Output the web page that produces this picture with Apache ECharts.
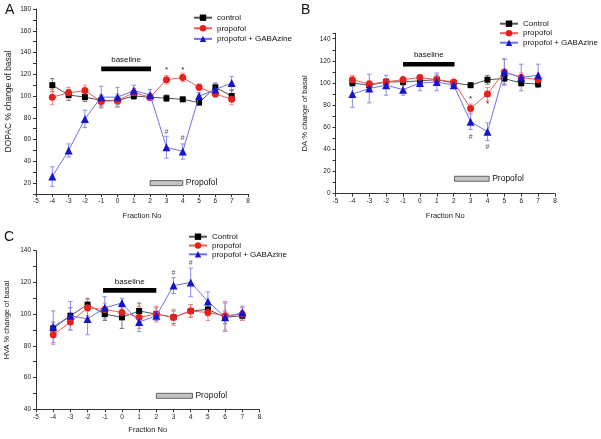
<!DOCTYPE html>
<html>
<head>
<meta charset="utf-8">
<script src="https://cdn.jsdelivr.net/npm/echarts@6/dist/echarts.min.js"></script>
<style>html,body{margin:0;padding:0;background:#fff}#c{width:601px;height:439px}</style>
</head>
<body>
<div id="c"></div>
<script>
// ---------- data ----------
const fractions = [-4, -3, -2, -1, 0, 1, 2, 3, 4, 5, 6, 7];
const xTicks = [-5, -4, -3, -2, -1, 0, 1, 2, 3, 4, 5, 6, 7, 8];

// Panel A: DOPAC
const dopacControl = [110, 101, 99, 96, 96, 100, 99, 98, 97, 94, 108, 100];
const dopacControlErr = [6, 5, 4, 5, 4, 3, 3, 3, 1, 2, 4, 5];
const dopacPropofol = [99, 103, 105, 95, 96, 103, 99, 115, 117, 108, 102, 97];
const dopacPropofolErr = [7, 5, 5, 5, 6, 4, 3, 4, 4, 3, 3, 5];
const dopacGaba = [26, 50, 79, 99, 99, 105, 101, 53, 49, 100, 106, 112];
const dopacGabaErr = [9, 6, 8, 10, 9, 5, 5, 10, 7, 3, 5, 6];
const dopacMarks = [[3, 124, '*'], [4, 124, '*'], [3, 67, '#'], [4, 61, '#']];

// Panel B: DA
const daControl = [100, 98, 101, 101, 102, 103, 100, 98, 103, 104, 100, 99];
const daControlErr = [3, 3, 3, 3, 3, 4, 2, 2, 4, 5, 3, 3];
const daPropofol = [103, 99, 101, 103, 105, 103, 101, 77, 90, 110, 105, 103];
const daPropofolErr = [4, 3, 3, 3, 2, 4, 2, 4, 6, 11, 4, 4];
const daGaba = [90, 95, 98, 94, 100, 101, 98, 65, 56, 110, 105, 107];
const daGabaErr = [12, 13, 9, 5, 7, 8, 3, 7, 8, 12, 12, 10];
const daMarks = [[3, 86, '*'], [4, 81, '*'], [3, 51, '#'], [4, 42, '#']];

// Panel C: HVA
const hvaControl = [91, 99, 106, 100, 98, 102, 100, 98, 102, 103, 98, 99];
const hvaControlErr = [4, 5, 4, 4, 7, 5, 4, 4, 4, 4, 4, 3];
const hvaPropofol = [87, 95, 104, 103, 101, 98, 100, 98, 102, 101, 99, 100];
const hvaPropofolErr = [6, 5, 5, 4, 4, 7, 5, 5, 4, 5, 9, 4];
const hvaGaba = [92, 99, 97, 104, 107, 95, 99, 118, 120, 108, 98, 101];
const hvaGabaErr = [10, 9, 10, 7, 3, 6, 3, 5, 9, 6, 9, 4];
const hvaMarks = [[3, 126, '#'], [4, 132, '#']];

// annotation bars: [xStart, xEnd, y]
const baselineBars = [[-1, 2.05, 125], [-1, 2.05, 117], [-1.1, 2, 115]];
const propofolBars = [[2, 4, 20], [2.05, 4.1, 13.5], [2, 4.1, 48.5]];

const yTitles = ['DOPAC % change of basal', 'DA % change of basal', 'HVA % change of basal'];
const legendNames = [
  ['control', 'propofol', 'propofol + GABAzine'],
  ['Control', 'propofol', 'propofol + GABAzine'],
  ['Control', 'propofol', 'propofol + GABAzine']
];
const panelLetters = ['A', 'B', 'C'];

// ---------- layout / style ----------
const FONT = '"Liberation Sans", Arial, Helvetica, sans-serif';
const grids = [
  {left: 36, top: 9, width: 212, height: 185},
  {left: 335.5, top: 33.2, width: 219.5, height: 160.5},
  {left: 36, top: 250.7, width: 223.5, height: 158.6}
];
const yRanges = [[10, 180], [0, 145], [40, 140]];
const yNameGaps = [23, 26.5, 25];
const yNameSizes = [8.5, 7.7, 7.5];
const yNamePads = [[0, 0, 0, 0], [0, 0, 0, 0], [0, 0, 0, 20]];
const xNameGaps = [17.5, 18.5, 16.5];

const styles = {
  control: {symbol: 'rect', size: 6, mark: '#000000', line: '#555555', err: '#777777'},
  propofol: {symbol: 'circle', size: 7, mark: '#e8201c', line: '#ee5a55', err: '#f08a86'},
  gaba: {symbol: 'triangle', size: 8, mark: '#1515cc', line: '#7070ee', err: '#8c8cf0'}
};

const panels = [
  {c: dopacControl, ce: dopacControlErr, p: dopacPropofol, pe: dopacPropofolErr, g: dopacGaba, ge: dopacGabaErr, marks: dopacMarks},
  {c: daControl, ce: daControlErr, p: daPropofol, pe: daPropofolErr, g: daGaba, ge: daGabaErr, marks: daMarks},
  {c: hvaControl, ce: hvaControlErr, p: hvaPropofol, pe: hvaPropofolErr, g: hvaGaba, ge: hvaGabaErr, marks: hvaMarks}
];

const xAxes = [], yAxes = [], series = [];

grids.forEach((g, i) => {
  xAxes.push({
    type: 'value', gridIndex: i, min: xTicks[0], max: xTicks[xTicks.length - 1], interval: 1,
    name: 'Fraction No', nameLocation: 'middle', nameGap: xNameGaps[i],
    nameTextStyle: {fontFamily: FONT, fontSize: 7.5, color: '#222'},
    axisLine: {onZero: false, lineStyle: {color: '#333', width: 1}},
    axisTick: {length: 3, lineStyle: {color: '#333'}},
    axisLabel: {fontFamily: FONT, fontSize: 6.5, color: '#222', margin: 4},
    splitLine: {show: false}
  });
  yAxes.push({
    type: 'value', gridIndex: i, min: yRanges[i][0], max: yRanges[i][1], interval: 10,
    name: yTitles[i], nameLocation: 'middle', nameGap: yNameGaps[i],
    nameTextStyle: {fontFamily: FONT, fontSize: yNameSizes[i], color: '#222', padding: yNamePads[i]},
    axisLine: {show: true, onZero: false, lineStyle: {color: '#333', width: 1}},
    axisTick: {show: true, length: 3, lineStyle: {color: '#333'}},
    axisLabel: {fontFamily: FONT, fontSize: 6.5, color: '#222', margin: 5,
      formatter: v => (v % 20 === 0 ? String(v) : '')},
    splitLine: {show: false}
  });
});

function errSeries(gi, ys, errs, color) {
  return {
    type: 'custom', xAxisIndex: gi, yAxisIndex: gi, silent: true, z: 1,
    data: fractions.map((x, k) => [x, ys[k] - errs[k], ys[k] + errs[k]]),
    renderItem: (params, api) => {
      const lo = api.coord([api.value(0), api.value(1)]);
      const hi = api.coord([api.value(0), api.value(2)]);
      const w = 2.2;
      const st = {stroke: color, lineWidth: 1};
      return {type: 'group', children: [
        {type: 'line', shape: {x1: lo[0], y1: lo[1], x2: hi[0], y2: hi[1]}, style: st},
        {type: 'line', shape: {x1: hi[0] - w, y1: hi[1], x2: hi[0] + w, y2: hi[1]}, style: st},
        {type: 'line', shape: {x1: lo[0] - w, y1: lo[1], x2: lo[0] + w, y2: lo[1]}, style: st}
      ]};
    }
  };
}

function lineSeries(name, gi, ys, s, z) {
  return {
    type: 'line', name: name, xAxisIndex: gi, yAxisIndex: gi, z: z,
    data: fractions.map((x, k) => [x, ys[k]]),
    symbol: s.symbol, symbolSize: s.size, showSymbol: true,
    itemStyle: {color: s.mark, borderWidth: 0},
    lineStyle: {color: s.line, width: 1},
    animation: false
  };
}

panels.forEach((p, i) => {
  const names = legendNames[i];
  series.push(errSeries(i, p.c, p.ce, styles.control.err));
  series.push(errSeries(i, p.p, p.pe, styles.propofol.err));
  series.push(errSeries(i, p.g, p.ge, styles.gaba.err));
  series.push(lineSeries(names[0], i, p.c, styles.control, 3));
  series.push(lineSeries(names[1], i, p.p, styles.propofol, 4));
  series.push(lineSeries(names[2], i, p.g, styles.gaba, 5));
  // significance marks
  series.push({
    type: 'custom', xAxisIndex: i, yAxisIndex: i, silent: true, z: 6,
    data: p.marks,
    renderItem: (params, api) => {
      const pt = api.coord([api.value(0), api.value(1)]);
      const t = p.marks[params.dataIndex][2];
      return {type: 'text', x: pt[0], y: pt[1], style: {
        text: t, fontFamily: FONT, fontSize: t === '*' ? 8 : 7,
        fill: t === '*' ? '#222' : '#555', align: 'center', verticalAlign: 'middle'}};
    }
  });
  // baseline bar + label
  series.push({
    type: 'custom', xAxisIndex: i, yAxisIndex: i, silent: true, z: 6,
    data: [baselineBars[i]],
    renderItem: (params, api) => {
      const a = api.coord([api.value(0), api.value(2)]);
      const b = api.coord([api.value(1), api.value(2)]);
      return {type: 'group', children: [
        {type: 'rect', shape: {x: a[0], y: a[1] - 2.3, width: b[0] - a[0], height: 4.6}, style: {fill: '#000'}},
        {type: 'text', x: (a[0] + b[0]) / 2, y: a[1] - 5, style: {text: 'baseline', fontFamily: FONT, fontSize: 8,
          fill: '#111', align: 'center', verticalAlign: 'bottom'}}
      ]};
    }
  });
  // propofol bar + label
  series.push({
    type: 'custom', xAxisIndex: i, yAxisIndex: i, silent: true, z: 6,
    data: [propofolBars[i]],
    renderItem: (params, api) => {
      const a = api.coord([api.value(0), api.value(2)]);
      const b = api.coord([api.value(1), api.value(2)]);
      return {type: 'group', children: [
        {type: 'rect', shape: {x: a[0], y: a[1] - 2.5, width: b[0] - a[0], height: 5},
          style: {fill: '#c4c4c4', stroke: '#444', lineWidth: 0.8}},
        {type: 'text', x: b[0] + 3, y: a[1], style: {text: 'Propofol', fontFamily: FONT, fontSize: 8.5,
          fill: '#111', align: 'left', verticalAlign: 'middle'}}
      ]};
    }
  });
});

const legendPos = [
  {left: 193, top: 13.7, itemGap: 2.6},
  {left: 499, top: 19.7, itemGap: 1.5},
  {left: 188, top: 232.7, itemGap: 0.8}
];
const legends = legendPos.map((lp, i) => ({
  data: legendNames[i], orient: 'vertical', left: lp.left, top: lp.top, itemGap: lp.itemGap,
  itemWidth: 18, itemHeight: 8, selectedMode: false, padding: 0,
  textStyle: {fontFamily: FONT, fontSize: 8, lineHeight: 8, color: '#111'}
}));

const letterPos = [[5, 3], [301, 3], [4, 230]];
const graphics = letterPos.map((pos, i) => ({
  type: 'text', left: pos[0], top: pos[1],
  style: {text: panelLetters[i], fontFamily: FONT, fontSize: 14, fill: '#111'}
}));

const chart = echarts.init(document.getElementById('c'), null, {renderer: 'canvas'});
chart.setOption({
  animation: false,
  backgroundColor: '#fff',
  grid: grids,
  xAxis: xAxes,
  yAxis: yAxes,
  legend: legends,
  graphic: graphics,
  series: series
});
</script>
</body>
</html>
